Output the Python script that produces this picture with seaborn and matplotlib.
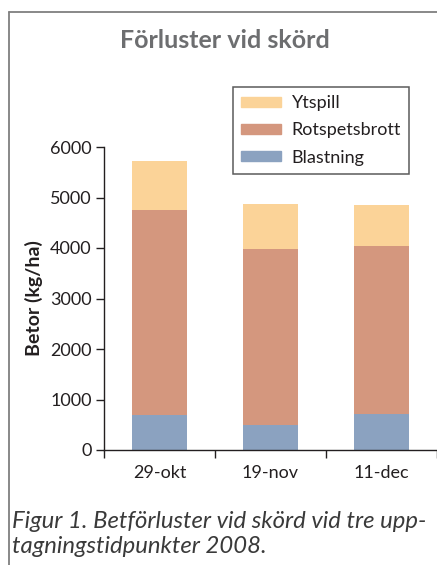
import pandas as pd
import matplotlib.pyplot as plt
import matplotlib.patches as mpatches
from matplotlib.lines import Line2D
import seaborn as sns

# Värden (kg/ha)
datum = ['29-okt', '19-nov', '11-dec']
blastning = [700, 490, 720]
rotspetsbrott = [4050, 3490, 3320]
ytspill = [970, 890, 810]

farger = {'Ytspill': '#fbd398', 'Rotspetsbrott': '#d4977e', 'Blastning': '#8ba2c0'}

df = pd.DataFrame({'datum': datum, 'Blastning': blastning,
                   'Rotspetsbrott': rotspetsbrott, 'Ytspill': ytspill})
df['bas'] = df['Blastning']
df['mitt'] = df['Blastning'] + df['Rotspetsbrott']
df['total'] = df['mitt'] + df['Ytspill']

sns.set_style('ticks')
plt.rcParams['font.family'] = ['Lato', 'DejaVu Sans']
textfarg = '#231f20'

fig = plt.figure(figsize=(4.37, 5.65), dpi=100)
ax = fig.add_axes([104 / 437, 115 / 565, 333 / 437, 303 / 565])

# Staplade staplar: ritar summorna ovanpå varandra
sns.barplot(data=df, x='datum', y='total', color=farger['Ytspill'], width=0.5, saturation=1, ax=ax)
sns.barplot(data=df, x='datum', y='mitt', color=farger['Rotspetsbrott'], width=0.5, saturation=1, ax=ax)
sns.barplot(data=df, x='datum', y='bas', color=farger['Blastning'], width=0.5, saturation=1, ax=ax)
for p in ax.patches:
    p.set_linewidth(0)

ax.set_xlim(-0.5, 2.5)
ax.set_ylim(0, 6000)
ax.set_yticks(range(0, 6001, 1000))
ax.set_xticks([-0.5, 0.5, 1.5, 2.5], minor=True)
ax.tick_params(axis='x', which='major', length=0, pad=11, labelsize=13, colors=textfarg)
ax.tick_params(axis='x', which='minor', length=5.8, width=1, direction='out', color=textfarg)
ax.tick_params(axis='y', length=5.8, width=1, pad=3, labelsize=13, colors=textfarg)
sns.despine(ax=ax, top=True, right=True)
for s in ['left', 'bottom']:
    ax.spines[s].set_color(textfarg)
    ax.spines[s].set_linewidth(1)
ax.set_xlabel('')
ax.set_ylabel('Betor (kg/ha)', fontsize=14, fontweight='bold', color=textfarg, labelpad=5)

handles = [mpatches.Patch(color=farger[k], label=k) for k in ['Ytspill', 'Rotspetsbrott', 'Blastning']]
leg = fig.legend(handles=handles, loc='upper right', bbox_to_anchor=(409 / 437, 1 - 87 / 565),
                 fontsize=13, frameon=True, fancybox=False, handlelength=2.2, handleheight=0.45,
                 handletextpad=0.6, labelspacing=0.62, borderpad=0.45, borderaxespad=0)
leg.get_frame().set_edgecolor('#333333')
leg.get_frame().set_linewidth(1.1)
for t in leg.get_texts():
    t.set_color(textfarg)

fig.text(225 / 437, 1 - 40 / 565, 'Förluster vid skörd', ha='center', va='center',
         fontsize=18, fontweight='bold', color='#6d6e70')

fig.text(12 / 437, 1 - 528 / 565, 'Figur 1. Betförluster vid skörd vid tre upp-',
         ha='left', va='baseline', fontsize=17.2, fontstyle='italic', color='#3a3a3a')
fig.text(12 / 437, 1 - 553 / 565, 'tagningstidpunkter 2008.',
         ha='left', va='baseline', fontsize=17.2, fontstyle='italic', color='#3a3a3a')

# Ram runt figuren
ram = '#7f7f7f'
fig.add_artist(Line2D([9 / 437, 1], [1 - 12 / 565, 1 - 12 / 565], color=ram, lw=1.3, transform=fig.transFigure))
fig.add_artist(Line2D([9 / 437, 9 / 437], [0, 1 - 12 / 565], color=ram, lw=1.3, transform=fig.transFigure))

fig.savefig('out.png', dpi=100)
